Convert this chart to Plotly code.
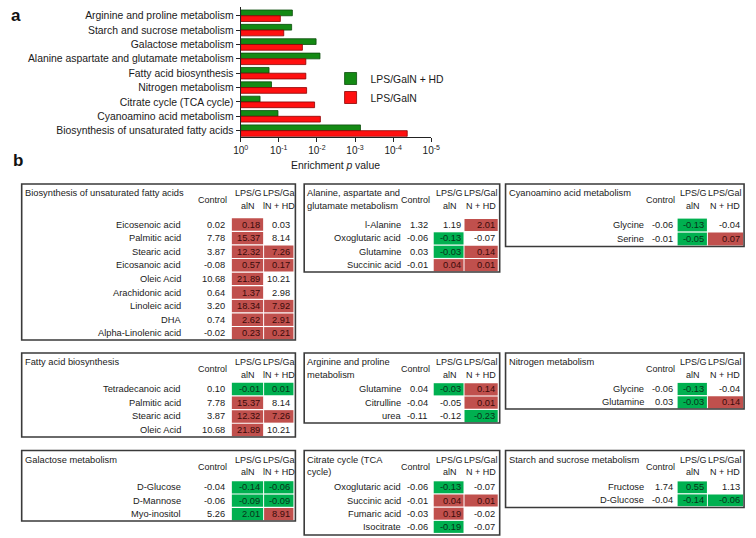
import math
import plotly.graph_objects as go

W, H = 756, 538
FONT = "Liberation Sans, Arial, sans-serif"

# ---------------- Panel a data ----------------
pathways = [
    "Arginine and proline metabolism",
    "Starch and sucrose metabolism",
    "Galactose metabolism",
    "Alanine aspartate and glutamate metabolism",
    "Fatty acid biosynthesis",
    "Nitrogen metabolism",
    "Citrate cycle (TCA cycle)",
    "Cyanoamino acid metabolism",
    "Biosynthesis of unsaturated fatty acids",
]
p_lps_hd = [0.044, 0.046, 0.0105, 0.0083, 0.18, 0.155, 0.31, 0.105, 0.00072]
p_lps = [0.091, 0.074, 0.024, 0.0195, 0.0195, 0.0186, 0.0115, 0.0081, 0.0000427]
x_tick_vals = [0, 1, 2, 3, 4, 5]
x_tick_text = ["10<sup>0</sup>", "10<sup>-1</sup>", "10<sup>-2</sup>",
               "10<sup>-3</sup>", "10<sup>-4</sup>", "10<sup>-5</sup>"]

# ---------------- Panel b data ----------------
t1_title = ["Biosynthesis of unsaturated fatty acids"]
t1_rows = ["Eicosenoic acid", "Palmitic acid", "Stearic acid", "Eicosanoic acid", "Oleic Acid",
           "Arachidonic acid", "Linoleic acid", "DHA", "Alpha-Linolenic acid"]
t1_control = [0.02, 7.78, 3.87, -0.08, 10.68, 0.64, 3.20, 0.74, -0.02]
t1_lps = [0.18, 15.37, 12.32, 0.57, 21.89, 1.37, 18.34, 2.62, 0.23]
t1_hd = [0.03, 8.14, 7.26, 0.17, 10.21, 2.98, 7.92, 2.91, 0.21]
t1_lps_sig = ["up", "up", "up", "up", "up", "up", "up", "up", "up"]
t1_hd_sig = ["", "", "up", "up", "", "", "up", "up", "up"]

t2_title = ["Fatty acid biosynthesis"]
t2_rows = ["Tetradecanoic acid", "Palmitic acid", "Stearic acid", "Oleic Acid"]
t2_control = [0.10, 7.78, 3.87, 10.68]
t2_lps = [-0.01, 15.37, 12.32, 21.89]
t2_hd = [0.01, 8.14, 7.26, 10.21]
t2_lps_sig = ["down", "up", "up", "up"]
t2_hd_sig = ["down", "", "up", ""]

t3_title = ["Galactose metabolism"]
t3_rows = ["D-Glucose", "D-Mannose", "Myo-inositol"]
t3_control = [-0.04, -0.06, 5.26]
t3_lps = [-0.14, -0.09, 2.01]
t3_hd = [-0.06, -0.09, 8.91]
t3_lps_sig = ["down", "down", "down"]
t3_hd_sig = ["down", "down", "up"]

t4_title = ["Alanine, aspartate and", "glutamate metabolism"]
t4_rows = ["l-Alanine", "Oxoglutaric acid", "Glutamine", "Succinic acid"]
t4_control = [1.32, -0.06, 0.03, -0.01]
t4_lps = [1.19, -0.13, -0.03, 0.04]
t4_hd = [2.01, -0.07, 0.14, 0.01]
t4_lps_sig = ["", "down", "down", "up"]
t4_hd_sig = ["up", "", "up", "up"]

t5_title = ["Arginine and proline", "metabolism"]
t5_rows = ["Glutamine", "Citrulline", "urea"]
t5_control = [0.04, -0.04, -0.11]
t5_lps = [-0.03, -0.05, -0.12]
t5_hd = [0.14, 0.01, -0.23]
t5_lps_sig = ["down", "", ""]
t5_hd_sig = ["up", "up", "down"]

t6_title = ["Citrate cycle (TCA", "cycle)"]
t6_rows = ["Oxoglutaric acid", "Succinic acid", "Fumaric acid", "Isocitrate"]
t6_control = [-0.06, -0.01, -0.03, -0.06]
t6_lps = [-0.13, 0.04, 0.19, -0.19]
t6_hd = [-0.07, 0.01, -0.02, -0.07]
t6_lps_sig = ["down", "up", "up", "down"]
t6_hd_sig = ["", "up", "", ""]

t7_title = ["Cyanoamino acid metabolism"]
t7_rows = ["Glycine", "Serine"]
t7_control = [-0.06, -0.01]
t7_lps = [-0.13, -0.05]
t7_hd = [-0.04, 0.07]
t7_lps_sig = ["down", "down"]
t7_hd_sig = ["", "up"]

t8_title = ["Nitrogen metabolism"]
t8_rows = ["Glycine", "Glutamine"]
t8_control = [-0.06, 0.03]
t8_lps = [-0.13, -0.03]
t8_hd = [-0.04, 0.14]
t8_lps_sig = ["down", "down"]
t8_hd_sig = ["", "up"]

t9_title = ["Starch and sucrose metabolism"]
t9_rows = ["Fructose", "D-Glucose"]
t9_control = [1.74, -0.04]
t9_lps = [0.55, -0.14]
t9_hd = [1.13, -0.06]
t9_lps_sig = ["down", "down"]
t9_hd_sig = ["", "down"]

col_control = "Control"
col_lps_a = ["LPS/G", "alN"]
col_hd_a = ["LPS/Ga", "lN + HD"]
col_hd_b = ["LPS/Gal", "N + HD"]

tables = [
    (t1_title, t1_rows, t1_control, t1_lps, t1_hd, t1_lps_sig, t1_hd_sig, col_hd_a),
    (t2_title, t2_rows, t2_control, t2_lps, t2_hd, t2_lps_sig, t2_hd_sig, col_hd_a),
    (t3_title, t3_rows, t3_control, t3_lps, t3_hd, t3_lps_sig, t3_hd_sig, col_hd_a),
    (t4_title, t4_rows, t4_control, t4_lps, t4_hd, t4_lps_sig, t4_hd_sig, col_hd_b),
    (t5_title, t5_rows, t5_control, t5_lps, t5_hd, t5_lps_sig, t5_hd_sig, col_hd_b),
    (t6_title, t6_rows, t6_control, t6_lps, t6_hd, t6_lps_sig, t6_hd_sig, col_hd_b),
    (t7_title, t7_rows, t7_control, t7_lps, t7_hd, t7_lps_sig, t7_hd_sig, col_hd_b),
    (t8_title, t8_rows, t8_control, t8_lps, t8_hd, t8_lps_sig, t8_hd_sig, col_hd_b),
    (t9_title, t9_rows, t9_control, t9_lps, t9_hd, t9_lps_sig, t9_hd_sig, col_hd_b),
]

# ---------------- Layout geometry (pixels) ----------------
COLS_L = dict(label_end=178, ctrl_end=223, c1=(229, 261), c2=(262, 292))
COLS_M = dict(label_end=403, ctrl_end=431, c1=(435.5, 466), c2=(467, 501))
COLS_R = dict(label_end=652, ctrl_end=681, c1=(685, 715), c2=(716, 752))
geometry = [
    dict(box=(14, 294, 184, 340), first=224.5, pitch=13.6, **COLS_L),
    dict(box=(14, 294, 353, 437), first=389, pitch=13.7, **COLS_L),
    dict(box=(14, 294, 450.5, 521), first=487.3, pitch=13.4, **COLS_L),
    dict(box=(303, 503, 184, 272), first=225, pitch=13.4, **COLS_M),
    dict(box=(303, 503, 353, 423), first=389.3, pitch=13.4, **COLS_M),
    dict(box=(303, 503, 450.5, 535), first=487.3, pitch=13.2, **COLS_M),
    dict(box=(509, 753, 184, 246.5), first=225, pitch=14.0, **COLS_R),
    dict(box=(509, 753, 353, 409), first=389, pitch=13.4, **COLS_R),
    dict(box=(509, 753, 450.5, 507.5), first=487.3, pitch=13.0, **COLS_R),
]

RED_FILL = "#C0504D"
GREEN_FILL = "#00B050"
FILL = {"up": RED_FILL, "down": GREEN_FILL}
TXT = {"up": "#3a0b0a", "down": "#08331a", "": "#1a1a1a"}
TS = 9.3   # table font size
BS = 10.4  # panel a font size

fig = go.Figure()

# ---------------- Panel a: bars ----------------
fig.add_trace(go.Bar(
    y=pathways, x=[-math.log10(p) for p in p_lps_hd], orientation="h",
    name="LPS/GalN + HD", width=0.4, offset=0,
    marker=dict(color="#148a14", line=dict(color="#0b4d0b", width=0.8)),
    xaxis="x", yaxis="y", hoverinfo="skip",
))
fig.add_trace(go.Bar(
    y=pathways, x=[-math.log10(p) for p in p_lps], orientation="h",
    name="LPS/GalN", width=0.4, offset=-0.4,
    marker=dict(color="#ff1010", line=dict(color="#8b0000", width=0.8)),
    xaxis="x", yaxis="y", hoverinfo="skip",
))

# ---------------- Panel b: tables ----------------
shapes = []
annotations = []


def txt(x, y, s, anchor="right", color="#1a1a1a", size=TS):
    annotations.append(dict(
        x=x, y=y, xref="x2", yref="y2", text=s, showarrow=False,
        xanchor=anchor, yanchor="middle", font=dict(family=FONT, size=size, color=color),
        borderpad=0,
    ))


for (title, rows, ctrl, lps, hd, lps_sig, hd_sig, hd_head), g in zip(tables, geometry):
    x0, x1, y0, y1 = g["box"]
    line1 = y0 + 9
    line2 = line1 + 12.5
    for i, t in enumerate(title):
        txt(x0 + 2, line1 + i * 12.5, t, anchor="left", size=TS)
    txt(g["ctrl_end"] + 2, (line1 + line2) / 2 + 1, col_control, anchor="right", size=TS - 0.3)
    c1m = sum(g["c1"]) / 2
    c2m = sum(g["c2"]) / 2
    txt(c1m + 1, line1, col_lps_a[0], anchor="center", size=TS - 0.3)
    txt(c1m + 1, line2, col_lps_a[1], anchor="center", size=TS - 0.3)
    txt(c2m, line1, hd_head[0], anchor="center", size=TS - 0.3)
    txt(c2m, line2, hd_head[1], anchor="center", size=TS - 0.3)
    for i, name in enumerate(rows):
        yc = g["first"] + i * g["pitch"]
        txt(g["label_end"], yc, name)
        txt(g["ctrl_end"], yc, f"{ctrl[i]:.2f}")
        for (cs, ce), val, sig in ((g["c1"], lps[i], lps_sig[i]), (g["c2"], hd[i], hd_sig[i])):
            if sig:
                shapes.append(dict(
                    type="rect", xref="x2", yref="y2", x0=cs, x1=ce,
                    y0=yc - g["pitch"] / 2 + 0.6, y1=yc + g["pitch"] / 2 - 0.6,
                    fillcolor=FILL[sig], line=dict(width=0), layer="above",
                ))
            txt(ce - 2, yc, f"{val:.2f}", color=TXT[sig])
    shapes.append(dict(
        type="rect", xref="x2", yref="y2", x0=x0, x1=x1, y0=y0, y1=y1,
        line=dict(color="#3a3a3a", width=1.6), fillcolor="rgba(0,0,0,0)", layer="above",
    ))

# panel letters
annotations.append(dict(x=8, y=15, xref="x2", yref="y2", text="<b>a</b>", showarrow=False,
                        xanchor="center", yanchor="middle",
                        font=dict(family=FONT, size=17, color="#111")))
annotations.append(dict(x=10, y=160, xref="x2", yref="y2", text="<b>b</b>", showarrow=False,
                        xanchor="center", yanchor="middle",
                        font=dict(family=FONT, size=17, color="#111")))
# x axis title of panel a
annotations.append(dict(x=335, y=165, xref="x2", yref="y2", text="Enrichment <i>p</i> value",
                        showarrow=False, xanchor="center", yanchor="middle",
                        font=dict(family=FONT, size=BS, color="#1a1a1a")))

fig.update_layout(
    width=W, height=H,
    margin=dict(l=0, r=0, t=0, b=0),
    paper_bgcolor="white", plot_bgcolor="rgba(0,0,0,0)",
    font=dict(family=FONT, size=BS, color="#1a1a1a"),
    barmode="overlay",
    showlegend=True,
    legend=dict(x=330 / W, y=1 - 64 / H, xanchor="left", yanchor="top",
                bgcolor="rgba(0,0,0,0)", font=dict(family=FONT, size=BS),
                tracegroupgap=0),
    xaxis=dict(domain=[238 / W, 433 / W], range=[0, 5], tickvals=x_tick_vals, ticktext=x_tick_text,
               showline=True, linecolor="#222", linewidth=1, ticks="outside", ticklen=4,
               tickcolor="#222", showgrid=False, zeroline=False, anchor="y", fixedrange=True,
               tickfont=dict(family=FONT, size=10)),
    yaxis=dict(domain=[1 - 136.7 / H, 1 - 6.7 / H], categoryorder="array",
               categoryarray=list(reversed(pathways)), range=[-0.42, 8.63],
               showline=True, linecolor="#222", linewidth=1, ticks="outside", ticklen=4,
               tickcolor="#222", showgrid=False, zeroline=False, anchor="x", fixedrange=True,
               tickfont=dict(family=FONT, size=BS)),
    xaxis2=dict(domain=[0, 1], range=[0, W], visible=False, anchor="y2", fixedrange=True),
    yaxis2=dict(domain=[0, 1], range=[H, 0], visible=False, anchor="x2", fixedrange=True),
    shapes=shapes,
    annotations=annotations,
)

fig.write_html(
    "out.html",
    config={"displayModeBar": False},
    post_script="document.body.style.margin='0';document.body.style.overflow='hidden';",
)
